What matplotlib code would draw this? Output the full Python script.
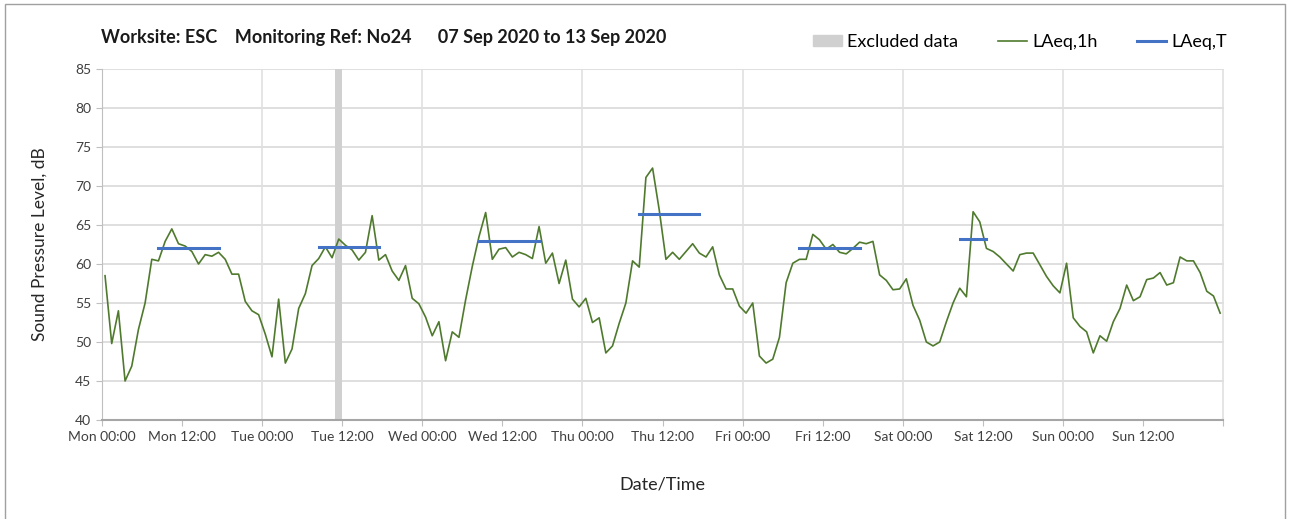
import matplotlib.pyplot as plt
from matplotlib.patches import Rectangle
from matplotlib.lines import Line2D
import numpy as np

plt.rcParams['font.family'] = ['Lato', 'DejaVu Sans']

# hourly LAeq,1h values, Mon 00:00 -> Sun 23:00 (plotted at mid-hour)
laeq_1h = [
    58.5, 49.8, 54.0, 45.0, 46.9, 51.6, 55.0, 60.6, 60.4, 62.9, 64.5, 62.6,
    62.3, 61.6, 60.0, 61.2, 61.0, 61.5, 60.6, 58.7, 58.7, 55.2, 54.0, 53.5,
    51.0, 48.1, 55.5, 47.3, 49.1, 54.3, 56.2, 59.8, 60.7, 62.2, 60.8, 63.2,
    62.4, 61.8, 60.5, 61.5, 66.2, 60.5, 61.2, 59.1, 57.9, 59.8, 55.6, 54.9,
    53.2, 50.8, 52.6, 47.6, 51.3, 50.6, 55.4, 59.7, 63.5, 66.6, 60.6, 61.9,
    62.1, 60.9, 61.5, 61.2, 60.7, 64.8, 60.1, 61.4, 57.5, 60.5, 55.5, 54.5,
    55.6, 52.5, 53.1, 48.6, 49.5, 52.4, 55.0, 60.4, 59.6, 71.1, 72.3, 66.9,
    60.6, 61.5, 60.6, 61.6, 62.6, 61.4, 60.9, 62.2, 58.6, 56.8, 56.8, 54.6,
    53.7, 55.0, 48.2, 47.3, 47.8, 50.6, 57.6, 60.1, 60.6, 60.6, 63.8, 63.1,
    61.9, 62.5, 61.5, 61.3, 62.0, 62.8, 62.6, 62.9, 58.6, 57.9, 56.7, 56.8,
    58.1, 54.7, 52.8, 50.0, 49.5, 50.0, 52.6, 55.0, 56.9, 55.8, 66.7, 65.4,
    62.0, 61.6, 60.9, 60.0, 59.1, 61.2, 61.4, 61.4, 59.9, 58.4, 57.2, 56.3,
    60.1, 53.1, 52.0, 51.3, 48.6, 50.8, 50.1, 52.6, 54.3, 57.3, 55.3, 55.8,
    58.0, 58.2, 58.9, 57.3, 57.6, 60.9, 60.4, 60.4, 58.9, 56.5, 55.9, 53.7,
]
hours = np.arange(len(laeq_1h)) + 0.5

# LAeq,T daytime averages: (first hour, last hour, level)
period_start = [8, 32, 56, 80, 104, 128]
period_end = [17, 41, 65, 89, 113, 132]
laeq_t = [62.0, 62.2, 62.9, 66.4, 62.1, 63.2]

excluded = (35, 36)

tick_hours = np.arange(0, 169, 12)
days = ['Mon', 'Tue', 'Wed', 'Thu', 'Fri', 'Sat', 'Sun']
tick_labels = [f"{days[h // 24]} {h % 24:02d}:00" if h < 168 else '' for h in tick_hours]

fig = plt.figure(figsize=(12.9, 5.19), dpi=100)
ax = fig.add_axes([101.7 / 1290, 1 - 420 / 519, 1121.8 / 1290, 351 / 519])

grey = '#bfbfbf'
ax.axvspan(excluded[0], excluded[1], color='#d0d0d0', lw=0, zorder=1)
ax.plot(hours, laeq_1h, color='#4f7a2e', lw=1.2, zorder=3)
for s, e, v in zip(period_start, period_end, laeq_t):
    ax.plot([s + 0.5, e + 0.5], [v, v], color='#4472c4', lw=2.2, zorder=4)

ax.set_xlim(0, 168)
ax.set_ylim(40, 85)
ax.set_yticks(np.arange(40, 86, 5))
ax.set_xticks(tick_hours)
ax.set_xticklabels(tick_labels)
for y in range(45, 86, 5):
    ax.axhline(y, color='#d9d9d9', lw=1.2, zorder=0)
for x in range(24, 169, 24):
    ax.axvline(x, color='#e0e0e0', lw=1.2, zorder=0)

for side in ['top', 'right']:
    ax.spines[side].set_visible(False)
ax.spines['left'].set_color(grey)
ax.spines['bottom'].set_color('#a6a6a6')
ax.spines['bottom'].set_linewidth(1.5)
ax.tick_params(axis='both', colors=grey, length=4, labelcolor='#404040', labelsize=10)
ax.tick_params(axis='x', pad=4)

ax.set_ylabel('Sound Pressure Level, dB', fontsize=12.5, color='#262626', labelpad=20)
ax.set_xlabel('Date/Time', fontsize=13, color='#262626', labelpad=24)

fig.text(101 / 1290, 1 - 38 / 519,
         'Worksite: ESC    Monitoring Ref: No24      07 Sep 2020 to 13 Sep 2020',
         fontsize=13, fontweight='bold', color='#1a1a1a', va='center')

handles = [Rectangle((0, 0), 1, 1, color='#d0d0d0'),
           Line2D([], [], color='#4f7a2e', lw=1.2),
           Line2D([], [], color='#4472c4', lw=2.2)]
fig.legend(handles, ['Excluded data', 'LAeq,1h', 'LAeq,T'], loc='center right',
           bbox_to_anchor=(1240 / 1290, 1 - 42 / 519), ncol=3, frameon=False,
           fontsize=13, handlelength=1.6, handletextpad=0.3, columnspacing=2.2,
           handleheight=0.6, borderpad=0.2)

fig.add_artist(Rectangle((5 / 1290, -0.1), 1280 / 1290, 1.1 - 4 / 519,
                         transform=fig.transFigure, fill=False, edgecolor='#a0a0a0', lw=1))

fig.savefig('out.png', dpi=100)
